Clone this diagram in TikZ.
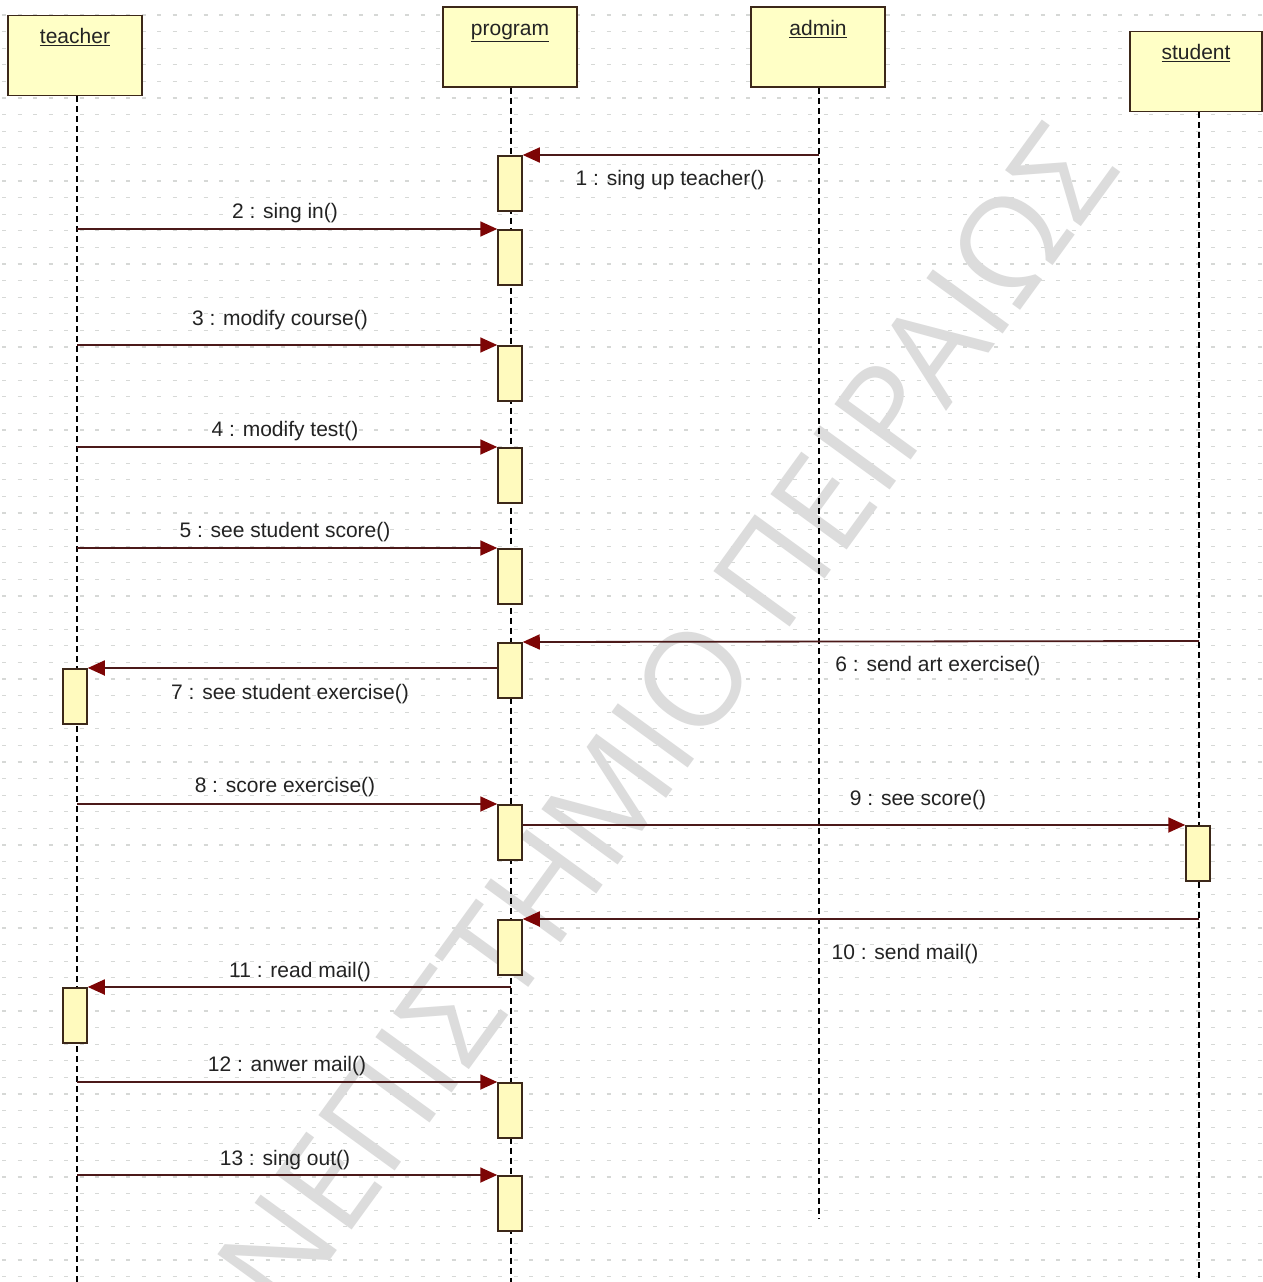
\documentclass[tikz,border=0pt]{standalone}
\usepackage{fontspec}
\setmainfont{Liberation Sans}
\newfontfamily\wmfont{Open Sans}
\usetikzlibrary{arrows.meta}
\definecolor{boxfill}{RGB}{255,255,198}
\definecolor{barfill}{RGB}{255,250,190}
\definecolor{boxline}{RGB}{60,40,25}
\definecolor{msgline}{RGB}{75,25,25}
\definecolor{tipred}{RGB}{125,5,5}
\definecolor{gridc}{RGB}{214,216,214}
\definecolor{wmc}{RGB}{220,220,220}
\definecolor{txt}{RGB}{35,35,35}
\begin{document}
\begin{tikzpicture}[x=1pt,y=-1pt,
  actor/.style={draw=boxline, line width=1.8pt, fill=boxfill, minimum width=134pt, minimum height=80pt, inner sep=0pt},
  aname/.style={font=\fontsize{21}{24}\selectfont, text=txt, inner sep=0pt, anchor=base, yshift=-29pt},
  bar/.style={draw=boxline, line width=1.5pt, fill=barfill, minimum width=24pt, minimum height=55pt, inner sep=0pt, anchor=north},
  life/.style={line width=1.8pt, dash pattern=on 6pt off 4pt},
  msg/.style={draw=msgline, line width=1.8pt, -{Triangle[length=17pt,width=15pt,fill=tipred,color=tipred]}},
  lbl/.style={font=\fontsize{21}{24}\selectfont, text=txt, inner sep=0pt, anchor=base}]
\useasboundingbox (0,0) rectangle (1262,1282);
\fill[white] (0,0) rectangle (1262,1282);
\begin{scope}
\clip (0,0) rectangle (1262,1282);
\foreach \yy in {15,31.6,...,1282}
  \draw[gridc, line width=1.3pt, dash pattern=on 4pt off 11.5pt] (2,\yy) -- (1262,\yy);
\node[rotate=54, text=wmc, font=\wmfont\fontsize{132}{140}\selectfont, inner sep=0pt] (wm) at (666,718) {ΝΕΠΙΣΤΗΜΙΟ ΠΕΙΡΑΙΩΣ};
\end{scope}

% actors
\node[actor, label={[aname]north:\underline{teacher}}] (teacher) at (75,55.5) {};
\node[actor, label={[aname]north:\underline{program}}] (program) at (510,47) {};
\node[actor, label={[aname]north:\underline{admin}}] (admin) at (818,47) {};
\node[actor, minimum width=132pt, label={[aname]north:\underline{student}}] (student) at (1196,71.5) {};

% lifeline ends
\coordinate (tEnd) at (77,1282);
\coordinate (pEnd) at (511,1282);
\coordinate (aEnd) at (819,1218);
\coordinate (sEnd) at (1199,1282);
\draw[life] (teacher.south -| tEnd) -- (tEnd);
\draw[life] (program.south -| pEnd) -- (pEnd);
\draw[life] (admin.south -| aEnd) -- (aEnd);
\draw[life] (student.south -| sEnd) -- (sEnd);

% activation bars
\node[bar] (p1) at (510,155) {};
\node[bar] (p2) at (510,229) {};
\node[bar] (p3) at (510,345) {};
\node[bar] (p4) at (510,447) {};
\node[bar] (p5) at (510,548) {};
\node[bar] (p6) at (510,642) {};
\node[bar] (t1) at (75,668) {};
\node[bar] (p8) at (510,804) {};
\node[bar] (s1) at (1198,825) {};
\node[bar] (p10) at (510,919) {};
\node[bar] (t2) at (75,987) {};
\node[bar] (p12) at (510,1082) {};
\node[bar] (p13) at (510,1175) {};

% message start points
\coordinate (m1) at (819,155);
\coordinate (m2) at (77,229);
\coordinate (m3) at (77,345);
\coordinate (m4) at (77,447);
\coordinate (m5) at (77,548);
\coordinate (m6) at (1199,641);
\coordinate (m10) at (1199,919);
\coordinate (m11) at (511,987);
\coordinate (m12) at (77,1082);
\coordinate (m13) at (77,1175);

\draw[msg] (m1) -- (p1.north east);
\draw[msg] (m2) -- (p2.north west);
\draw[msg] (m3) -- (p3.north west);
\draw[msg] (m4) -- (p4.north west);
\draw[msg] (m5) -- (p5.north west);
\draw[msg] (m6) -- (p6.north east);
\draw[msg] (p6.west |- t1.north) -- (t1.north east);
\draw[msg] (tEnd |- p8.north) -- (p8.north west);
\draw[msg] (p8.east |- s1.north) -- (s1.north west);
\draw[msg] (m10) -- (p10.north east);
\draw[msg] (m11) -- (t2.north east);
\draw[msg] (m12) -- (p12.north west);
\draw[msg] (m13) -- (p13.north west);

% labels
\node[lbl] (l1) at (670,185) {1 : sing up teacher()};
\node[lbl] (l2) at (285,218) {2 : sing in()};
\node[lbl] (l3) at (280,325) {3 : modify course()};
\node[lbl] (l4) at (285,436) {4 : modify test()};
\node[lbl] (l5) at (285,537) {5 : see student score()};
\node[lbl] (l6) at (938,671) {6 : send art exercise()};
\node[lbl] (l7) at (290,699) {7 : see student exercise()};
\node[lbl] (l8) at (285,792) {8 : score exercise()};
\node[lbl] (l9) at (918,805) {9 : see score()};
\node[lbl] (l10) at (905,959) {10 : send mail()};
\node[lbl] (l11) at (300,977) {11 : read mail()};
\node[lbl] (l12) at (287,1071) {12 : anwer mail()};
\node[lbl] (l13) at (285,1165) {13 : sing out()};
\end{tikzpicture}
\end{document}
